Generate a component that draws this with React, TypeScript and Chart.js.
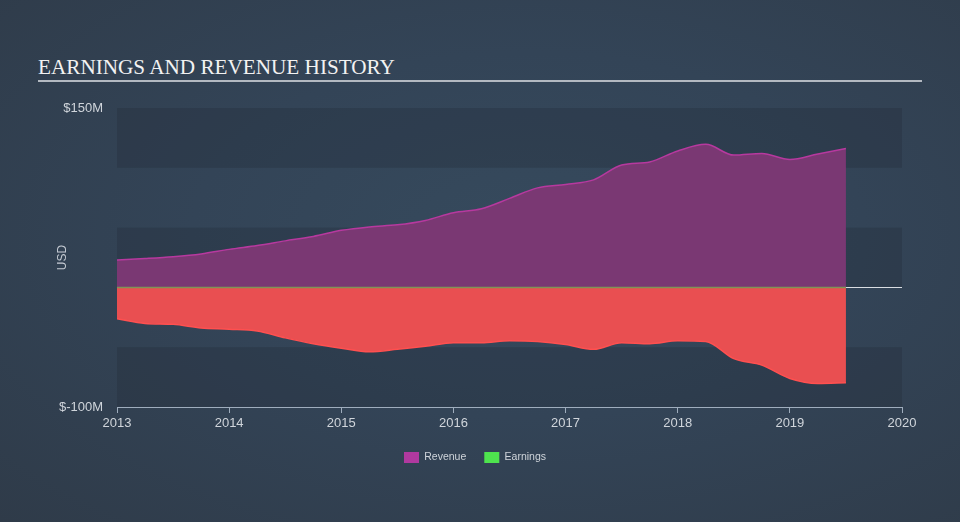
import React, { useEffect, useRef } from "react";
import { Chart, registerables } from "chart.js";

Chart.register(...registerables);

const dates = [
  2013, 2013.25, 2013.5, 2013.75, 2014, 2014.25, 2014.5, 2014.75, 2015, 2015.25,
  2015.5, 2015.75, 2016, 2016.25, 2016.5, 2016.75, 2017, 2017.25, 2017.5, 2017.75,
  2018, 2018.25, 2018.5, 2018.75, 2019, 2019.25, 2019.5,
];
const revenue = [
  23.0, 24.2, 25.7, 28.0, 31.8, 35.1, 38.9, 42.6, 47.7, 50.6,
  52.3, 56.0, 62.5, 65.8, 74.4, 83.2, 86.1, 89.9, 102.3, 104.9,
  114.1, 119.6, 110.6, 112.0, 107.0, 111.6, 116.2,
];
const earnings = [
  -26.2, -30.1, -30.9, -33.9, -34.9, -36.4, -42.2, -47.1, -50.8, -53.8,
  -51.8, -49.3, -46.2, -46.2, -44.6, -45.2, -47.7, -51.8, -46.2, -47.1,
  -44.7, -45.2, -59.6, -65.0, -76.1, -80.3, -79.7,
];
const yTickValues = [-100, 150];
const bandEdges = [
  [100, 150],
  [0, 50],
  [-100, -50],
];
const seriesNames = ["Revenue", "Earnings"];

const FONT = '"Liberation Sans", Arial, sans-serif';

export default function App() {
  const ref = useRef<HTMLCanvasElement | null>(null);

  useEffect(() => {
    const canvas = ref.current;
    if (!canvas) return;

    const bandsPlugin = {
      id: "bands",
      beforeDatasetsDraw(chart: any) {
        const { ctx, chartArea, scales } = chart;
        const y = scales.y;
        ctx.save();
        ctx.fillStyle = "rgba(30,40,52,0.26)";
        for (const [lo, hi] of bandEdges) {
          const top = y.getPixelForValue(hi);
          const bot = y.getPixelForValue(lo);
          ctx.fillRect(chartArea.left, top, chartArea.right - chartArea.left, bot - top);
        }
        const y0 = Math.round(y.getPixelForValue(0)) + 0.5;
        ctx.strokeStyle = "#d9dde2";
        ctx.lineWidth = 1;
        ctx.beginPath();
        ctx.moveTo(chartArea.left, y0);
        ctx.lineTo(chartArea.right, y0);
        ctx.stroke();
        ctx.restore();
      },
      afterDatasetsDraw(chart: any) {
        const { ctx, scales } = chart;
        const y0 = Math.round(scales.y.getPixelForValue(0)) + 0.5;
        const x1 = scales.x.getPixelForValue(dates[0]);
        const x2 = scales.x.getPixelForValue(dates[dates.length - 1]);
        ctx.save();
        ctx.strokeStyle = "#7f9356";
        ctx.lineWidth = 1.5;
        ctx.beginPath();
        ctx.moveTo(x1, y0);
        ctx.lineTo(x2, y0);
        ctx.stroke();
        ctx.restore();
      },
    };

    const chart = new Chart(canvas, {
      type: "line",
      data: {
        datasets: [
          {
            label: seriesNames[0],
            data: dates.map((d, i) => ({ x: d, y: revenue[i] })),
            borderColor: "#b7399f",
            backgroundColor: "#7a3873",
            borderWidth: 1.5,
            fill: "origin",
            pointRadius: 0,
            cubicInterpolationMode: "monotone",
          },
          {
            label: seriesNames[1],
            data: dates.map((d, i) => ({ x: d, y: earnings[i] })),
            borderColor: "#ff5050",
            backgroundColor: "#e94f51",
            borderWidth: 1.5,
            fill: "origin",
            pointRadius: 0,
            cubicInterpolationMode: "monotone",
          },
        ],
      },
      options: {
        animation: false,
        responsive: false,
        maintainAspectRatio: false,
        layout: { padding: { left: 0, right: 10, top: 108, bottom: 49 } },
        plugins: {
          tooltip: { enabled: false },
          legend: {
            position: "bottom",
            labels: {
              color: "#cfd4da",
              font: { family: FONT, size: 10.5 },
              boxWidth: 15,
              boxHeight: 11,
              padding: 18,
              generateLabels: () => [
                { text: seriesNames[0], fillStyle: "#b0399f", strokeStyle: "#b0399f", lineWidth: 0, fontColor: "#cfd4da", datasetIndex: 0 },
                { text: seriesNames[1], fillStyle: "#4ee44e", strokeStyle: "#4ee44e", lineWidth: 0, fontColor: "#cfd4da", datasetIndex: 1 },
              ],
            },
          },
        },
        scales: {
          x: {
            type: "linear",
            min: 2013,
            max: 2020,
            ticks: {
              stepSize: 1,
              color: "#d0d5db",
              font: { family: FONT, size: 13 },
              padding: 3,
              maxRotation: 0,
              callback: (v: any) => String(v),
            },
            grid: {
              display: true,
              drawOnChartArea: false,
              drawTicks: true,
              tickLength: 6,
              color: "#9fadbd",
            },
            border: { display: true, color: "#9fadbd", width: 1 },
            afterFit: (s: any) => {
              s.height = 27;
            },
          },
          y: {
            type: "linear",
            min: -100,
            max: 150,
            afterBuildTicks: (s: any) => {
              s.ticks = yTickValues.map((v) => ({ value: v }));
            },
            ticks: {
              color: "#d0d5db",
              font: { family: FONT, size: 13 },
              padding: 6,
              callback: (v: any) => (v < 0 ? `$-${Math.abs(v)}M` : `$${v}M`),
            },
            grid: { display: false },
            border: { display: false },
            title: {
              display: true,
              text: "USD",
              color: "#c4cad2",
              font: { family: FONT, size: 12 },
              padding: { top: 55, bottom: 0 },
            },
            afterFit: (s: any) => {
              s.width = 117;
            },
          },
          yRight: {
            type: "linear",
            position: "right",
            display: true,
            ticks: { display: false },
            grid: { display: false },
            border: { display: false },
            afterFit: (s: any) => {
              s.width = 48;
            },
          },
        },
      },
      plugins: [bandsPlugin],
    });

    return () => chart.destroy();
  }, []);

  return (
    <div
      style={{
        position: "absolute",
        left: 0,
        top: 0,
        width: 960,
        height: 522,
        overflow: "hidden",
        background: "radial-gradient(ellipse at 55% 45%, #364a5d 0%, #334457 45%, #2f3b49 100%)",
      }}
    >
      <div
        style={{
          position: "absolute",
          left: 38,
          top: 56,
          fontFamily: '"Liberation Serif", "Times New Roman", serif',
          fontSize: 21.2,
          lineHeight: "22px",
          color: "#f2f2f2",
          whiteSpace: "nowrap",
        }}
      >
        EARNINGS AND REVENUE HISTORY
      </div>
      <div
        style={{
          position: "absolute",
          left: 38,
          top: 80,
          width: 884,
          height: 2,
          background: "#b3b9c1",
        }}
      />
      <canvas
        ref={ref}
        width={960}
        height={522}
        style={{ position: "absolute", left: 0, top: 0, width: 960, height: 522 }}
      />
    </div>
  );
}
